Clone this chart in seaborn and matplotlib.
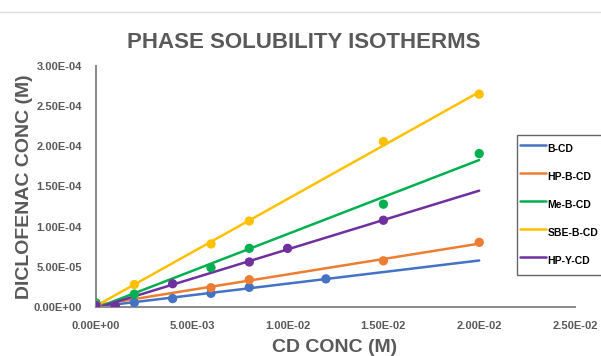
import numpy as np
import pandas as pd
import matplotlib
matplotlib.use("Agg")
import matplotlib.pyplot as plt
from matplotlib.lines import Line2D
from matplotlib.ticker import FuncFormatter
import seaborn as sns

# ---------------- data ----------------
series_names = ["B-CD", "HP-B-CD", "Me-B-CD", "SBE-B-CD", "HP-Y-CD"]

b_cd_x = [0.0, 0.001, 0.002, 0.004, 0.006, 0.008, 0.012]
b_cd_y = [3.0e-6, 1.5e-6, 5.5e-6, 1.05e-5, 1.7e-5, 2.45e-5, 3.5e-5]

hp_b_cd_x = [0.0, 0.006, 0.008, 0.015, 0.02]
hp_b_cd_y = [3.0e-6, 2.4e-5, 3.4e-5, 5.75e-5, 8.05e-5]

me_b_cd_x = [0.0, 0.002, 0.006, 0.008, 0.015, 0.02]
me_b_cd_y = [5.0e-6, 1.6e-5, 4.9e-5, 7.3e-5, 1.28e-4, 1.91e-4]

sbe_b_cd_x = [0.0, 0.002, 0.006, 0.008, 0.015, 0.02]
sbe_b_cd_y = [2.5e-6, 2.8e-5, 7.85e-5, 1.07e-4, 2.06e-4, 2.65e-4]

hp_y_cd_x = [0.0, 0.001, 0.004, 0.008, 0.01, 0.015]
hp_y_cd_y = [2.0e-6, 1.5e-6, 2.9e-5, 5.6e-5, 7.3e-5, 1.08e-4]

trend_range = [0.0, 0.02]

x_ticks = [0.0, 0.005, 0.01, 0.015, 0.02, 0.025]
y_ticks = [0.0, 5e-5, 1e-4, 1.5e-4, 2e-4, 2.5e-4, 3e-4]

colors = ["#4472C4", "#ED7D31", "#00B050", "#FFC000", "#7030A0"]

title_text = "PHASE SOLUBILITY ISOTHERMS"
x_label = "CD CONC (M)"
y_label = "DICLOFENAC CONC (M)"

# ---------------- build tables ----------------
xs = [b_cd_x, hp_b_cd_x, me_b_cd_x, sbe_b_cd_x, hp_y_cd_x]
ys = [b_cd_y, hp_b_cd_y, me_b_cd_y, sbe_b_cd_y, hp_y_cd_y]

pts = pd.concat(
    [pd.DataFrame({"x": x, "y": y, "series": n}) for n, x, y in zip(series_names, xs, ys)],
    ignore_index=True,
)
trend_rows = []
for n, x, y in zip(series_names, xs, ys):
    m, c = np.polyfit(x, y, 1)
    tx = np.array(trend_range)
    trend_rows.append(pd.DataFrame({"x": tx, "y": m * tx + c, "series": n}))
trend = pd.concat(trend_rows, ignore_index=True)

# ---------------- plot ----------------
sns.set_theme(style="white")
plt.rcParams["font.family"] = ["Liberation Sans", "DejaVu Sans"]

fig = plt.figure(figsize=(6.01, 3.56), dpi=100)
ax = fig.add_axes([96 / 601, 49 / 356, 479 / 601, 241 / 356])

palette = dict(zip(series_names, colors))
sns.lineplot(data=trend, x="x", y="y", hue="series", hue_order=series_names,
             palette=palette, linewidth=1.8, ax=ax, legend=True, estimator=None,
             sort=False)
sns.scatterplot(data=pts, x="x", y="y", hue="series", hue_order=series_names,
                palette=palette, s=45, edgecolor="none", linewidth=0, ax=ax,
                legend=False, zorder=3)

ax.set_xlim(x_ticks[0], x_ticks[-1])
ax.set_ylim(y_ticks[0], y_ticks[-1])
ax.set_xticks(x_ticks)
ax.set_yticks(y_ticks)
fmt = FuncFormatter(lambda v, p: f"{v:.2E}")
ax.xaxis.set_major_formatter(fmt)
ax.yaxis.set_major_formatter(fmt)
ax.tick_params(axis="both", length=0, labelsize=8, colors="#595959")
ax.tick_params(axis="x", pad=10)
ax.tick_params(axis="y", pad=10)
for lab in ax.get_xticklabels() + ax.get_yticklabels():
    lab.set_fontweight("bold")
ax.set_xlabel("")
ax.set_ylabel("")
ax.grid(False)
for s in ["top", "right"]:
    ax.spines[s].set_visible(False)
for s in ["left", "bottom"]:
    ax.spines[s].set_color("#8c8c8c")
    ax.spines[s].set_linewidth(1.5)

fig.text(304 / 601, 1 - 42 / 356, title_text, ha="center", va="center",
         fontsize=16, fontweight="bold", color="#595959")
fig.text(335 / 601, 1 - 348 / 356, x_label, ha="center", va="center",
         fontsize=14, fontweight="bold", color="#595959")
fig.text(25 / 601, 1 - 187 / 356, y_label, ha="center", va="center",
         rotation=90, fontsize=14, fontweight="bold", color="#595959")

handles, labels = ax.get_legend_handles_labels()
ax.get_legend().remove()
leg = fig.legend(handles, labels, loc="upper left",
                 bbox_to_anchor=(517 / 601, 1 - 135 / 356),
                 bbox_transform=fig.transFigure, borderaxespad=0,
                 frameon=True, fancybox=False, shadow=False,
                 prop={"size": 7.5, "weight": "bold"},
                 handlelength=2.5, handleheight=2.8, handletextpad=0.15,
                 labelspacing=0.62, borderpad=0.3)
leg.get_frame().set_edgecolor("#404040")
leg.get_frame().set_linewidth(1.0)
for t in leg.get_texts():
    t.set_color("#000000")

fig.add_artist(Line2D([0, 1], [1 - 12 / 356, 1 - 12 / 356],
                      transform=fig.transFigure, color="#dcdcdc", linewidth=1))

fig.savefig("out.png", dpi=100)
